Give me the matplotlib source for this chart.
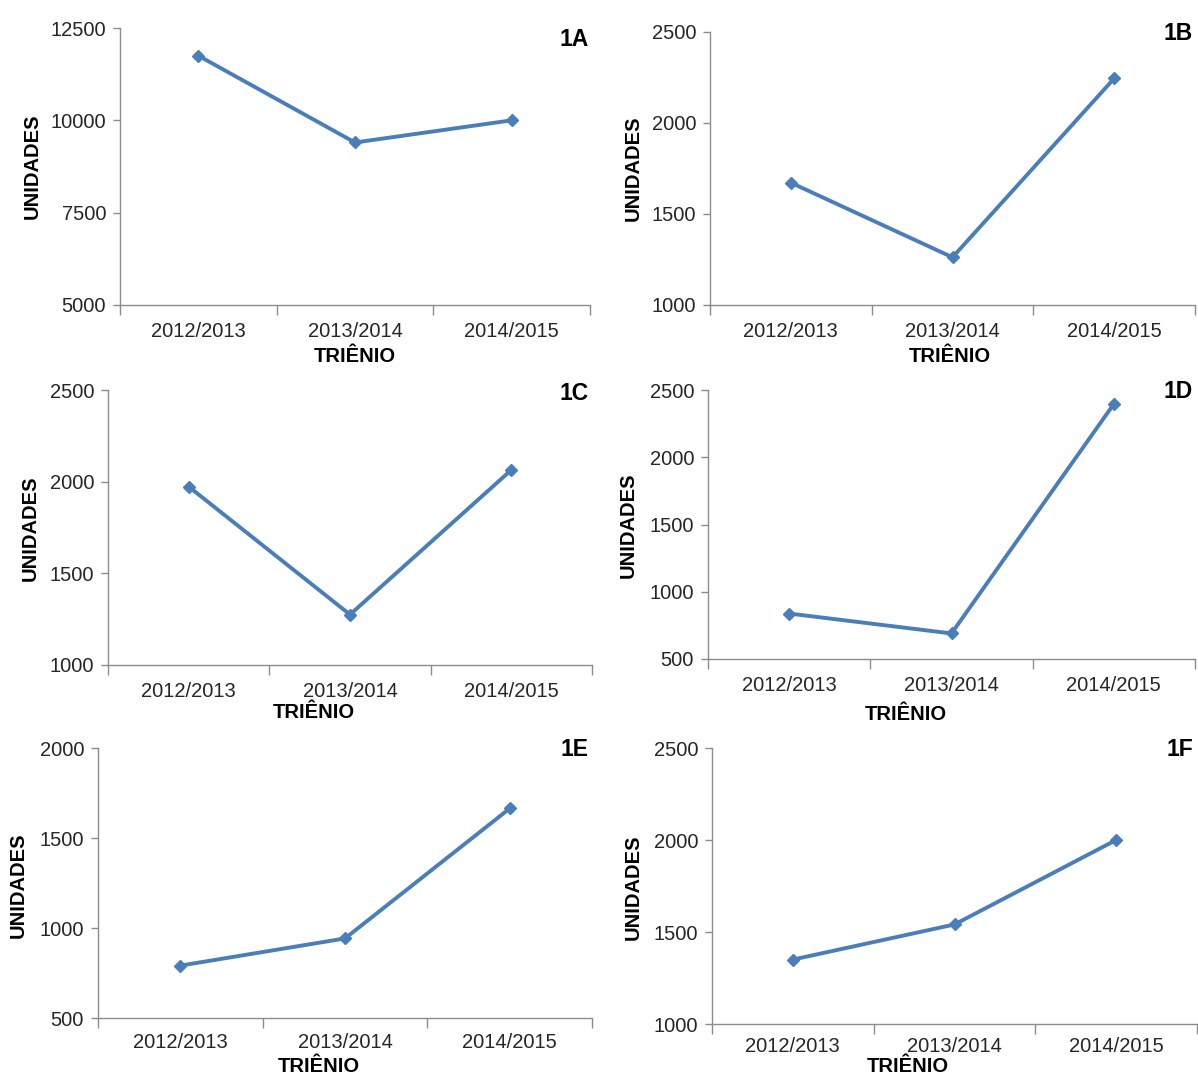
import matplotlib
matplotlib.use("Agg")
import matplotlib.pyplot as plt

plt.rcParams['font.family'] = ['Liberation Sans', 'DejaVu Sans']

categories = ["2012/2013", "2013/2014", "2014/2015"]

values_1a = [11750, 9400, 10000]
values_1b = [1672, 1262, 2245]
values_1c = [1973, 1275, 2064]
values_1d = [838, 690, 2396]
values_1e = [791, 942, 1664]
values_1f = [1350, 1541, 2000]

yticks_1a = [5000, 7500, 10000, 12500]
yticks_1b = [1000, 1500, 2000, 2500]
yticks_1c = [1000, 1500, 2000, 2500]
yticks_1d = [500, 1000, 1500, 2000, 2500]
yticks_1e = [500, 1000, 1500, 2000]
yticks_1f = [1000, 1500, 2000, 2500]

W, H = 1198, 1075
fig = plt.figure(figsize=(W / 100, H / 100), dpi=100)

LINE = "#4A7EBB"
AXC = "#8C8C8C"
TXT = "#262626"

# panel: tag, values, yticks, axes box (left, top, right, bottom) in px,
# ylabel position, xlabel position, tag position, x tick-label pad
panels = [
    ("1A", values_1a, yticks_1a, (120, 28, 590, 305), (32, 166), (355, 357), (574, 40), 12),
    ("1B", values_1b, yticks_1b, (710, 32, 1195, 305), (633, 168), (950, 357), (1178, 33), 12),
    ("1C", values_1c, yticks_1c, (108, 390, 592, 665), (30, 528), (314, 712), (574, 393), 12),
    ("1D", values_1d, yticks_1d, (708, 390, 1195, 659), (628, 525), (906, 714), (1178, 391), 12),
    ("1E", values_1e, yticks_1e, (98, 748, 592, 1018), (18, 885), (319, 1066), (574, 750), 11),
    ("1F", values_1f, yticks_1f, (712, 748, 1197, 1024), (633, 887), (908, 1066), (1180, 749), 9),
]

for tag, vals, yt, (l, t, r, b), ylp, xlp, tagp, xpad in panels:
    ax = fig.add_axes([l / W, 1 - b / H, (r - l) / W, (b - t) / H])
    x = list(range(1, len(categories) + 1))
    ax.plot(x, vals, color=LINE, lw=2.8, marker="D", ms=6.5,
            markeredgecolor=LINE, markerfacecolor=LINE, clip_on=False, zorder=3)
    ax.set_xlim(0.5, len(categories) + 0.5)
    ax.set_ylim(yt[0], yt[-1])
    ax.set_yticks(yt)
    ax.set_yticklabels([str(v) for v in yt], fontsize=14.5, color=TXT)
    # category boundaries carry the tick marks, labels sit in between
    ax.set_xticks([i + 0.5 for i in range(0, len(categories) + 1)])
    ax.set_xticklabels([])
    ax.set_xticks(x, minor=True)
    ax.set_xticklabels(categories, minor=True, fontsize=14.5, color=TXT)
    ax.tick_params(axis="x", which="major", length=7, width=1, color=AXC, direction="out")
    ax.tick_params(axis="x", which="minor", length=0, pad=xpad)
    ax.tick_params(axis="y", length=5, width=1, color=AXC, direction="out", pad=5)
    for s in ("top", "right"):
        ax.spines[s].set_visible(False)
    for s in ("left", "bottom"):
        ax.spines[s].set_color(AXC)
        ax.spines[s].set_linewidth(1)
    ax.patch.set_alpha(0)

    fig.text(ylp[0] / W, 1 - ylp[1] / H, "UNIDADES", rotation=90, fontsize=14.5,
             fontweight="bold", ha="center", va="center", color="black")
    fig.text(xlp[0] / W, 1 - xlp[1] / H, "TRIÊNIO", fontsize=14.5,
             fontweight="bold", ha="center", va="center", color="black")
    fig.text(tagp[0] / W, 1 - tagp[1] / H, tag, fontsize=16.5,
             fontweight="bold", ha="center", va="center", color="black")

fig.savefig("out.png", dpi=100, facecolor="white")
